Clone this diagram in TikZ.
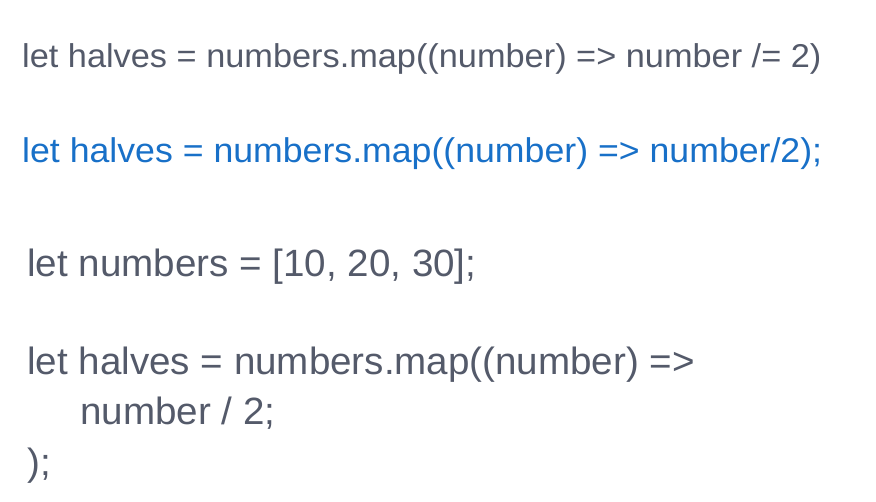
\documentclass[tikz,border=0pt]{standalone}
\usepackage{fontspec}
\setmainfont{Liberation Sans}
\newfontfamily\smallfam[FakeStretch=1.04]{Liberation Sans}
\newfontfamily\bigfam[FakeStretch=1.015]{Liberation Sans}
\definecolor{codegray}{RGB}{84,90,106}
\definecolor{codeblue}{RGB}{24,112,200}
\begin{document}
\begin{tikzpicture}[x=1pt,y=1pt,
  small/.style={anchor=base west,inner sep=0pt,font=\smallfam\fontsize{33}{40}\selectfont},
  big/.style={anchor=base west,inner sep=0pt,font=\bigfam\fontsize{38}{46}\selectfont,text=codegray}]
\useasboundingbox[fill=white] (0,0) rectangle (876,501);
\node[small,text=codegray] (l1) at (22,501-68) {let halves = numbers.map((number) => number /= 2)};
\node[small,text=codeblue,font=\smallfam\fontsize{34.3}{41}\selectfont] (l2) at (22,501-163) {let halves = numbers.map((number) => number/2);};
\node[big] (l3) at (27,501-277) {let numbers = [10, 20, 30];};
\node[big] (l4) at (27,501-375) {let halves = numbers.map((number) =>};
\node[big] (l5) at (80,501-425) {number / 2;};
\node[big] (l6) at (27,501-475) {);};
\end{tikzpicture}
\end{document}
